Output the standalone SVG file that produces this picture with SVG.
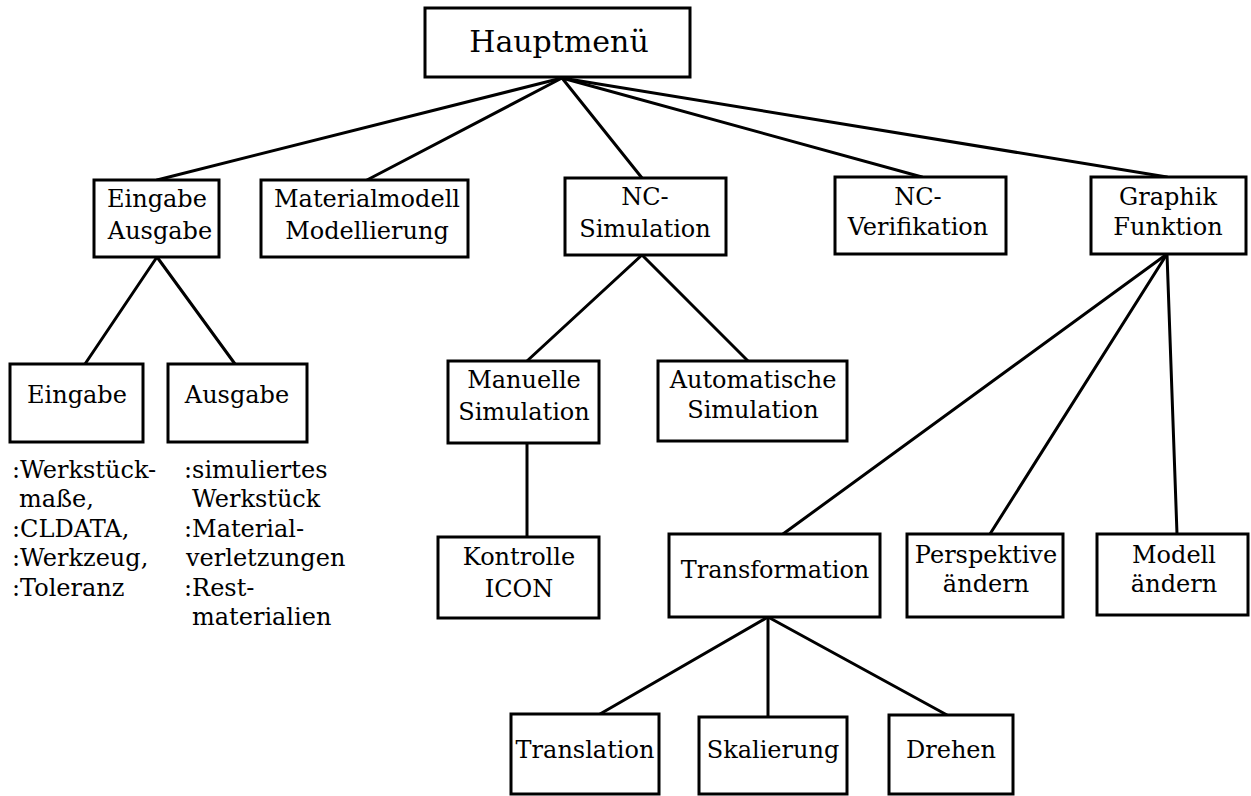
<svg xmlns="http://www.w3.org/2000/svg" width="1251" height="796" viewBox="0 0 1251 796">
<style>
rect.n{fill:#fff;stroke:#000;stroke-width:3}
.c line{stroke:#000;stroke-width:3;stroke-linecap:round}
text{font-family:"DejaVu Serif","Liberation Serif",serif;font-size:24px;fill:#000}
.m{text-anchor:middle}
</style>
<rect width="1251" height="796" fill="#fff"/>
<g class="c" id="connectors">
<line x1="562" y1="78" x2="157" y2="180"/>
<line x1="562" y1="78" x2="367" y2="180"/>
<line x1="562" y1="78" x2="642" y2="178"/>
<line x1="562" y1="78" x2="922" y2="177"/>
<line x1="562" y1="78" x2="1167" y2="177"/>
<line x1="157" y1="257" x2="85" y2="364"/>
<line x1="157" y1="257" x2="235" y2="364"/>
<line x1="642" y1="255" x2="527" y2="361"/>
<line x1="642" y1="255" x2="748" y2="361"/>
<line x1="527" y1="443" x2="527" y2="537"/>
<line x1="1167" y1="254" x2="783" y2="534"/>
<line x1="1167" y1="254" x2="990" y2="534"/>
<line x1="1167" y1="254" x2="1177" y2="534"/>
<line x1="768" y1="617" x2="600" y2="714"/>
<line x1="768" y1="617" x2="768" y2="717"/>
<line x1="768" y1="617" x2="947" y2="715"/>
</g>
<g id="hauptmenue"><rect class="n" x="425" y="8" width="265" height="69"/><text class="m" x="559" y="52" style="font-size:30px">Hauptmenü</text></g>
<g id="eingabe-ausgabe"><rect class="n" x="94" y="180" width="125" height="77"/><text class="m" x="157" y="207">Eingabe</text><text class="m" x="160" y="239">Ausgabe</text></g>
<g id="materialmodell"><rect class="n" x="261" y="180" width="207" height="77"/><text class="m" x="367" y="207">Materialmodell</text><text class="m" x="367" y="239">Modellierung</text></g>
<g id="nc-simulation"><rect class="n" x="565" y="178" width="161" height="77"/><text class="m" x="645" y="205">NC-</text><text class="m" x="645" y="237">Simulation</text></g>
<g id="nc-verifikation"><rect class="n" x="835" y="177" width="171" height="77"/><text class="m" x="918" y="205">NC-</text><text class="m" x="918" y="235">Verifikation</text></g>
<g id="graphik-funktion"><rect class="n" x="1091" y="177" width="155" height="77"/><text class="m" x="1168" y="205">Graphik</text><text class="m" x="1168" y="235">Funktion</text></g>
<g id="eingabe"><rect class="n" x="10" y="364" width="133" height="78"/><text class="m" x="77" y="403">Eingabe</text>
<text x="12" y="478">:Werkstück-</text><text x="19" y="507">maße,</text><text x="12" y="537">:CLDATA,</text><text x="12" y="566">:Werkzeug,</text><text x="12" y="596">:Toleranz</text></g>
<g id="ausgabe"><rect class="n" x="168" y="364" width="139" height="78"/><text class="m" x="237" y="403">Ausgabe</text>
<text x="184" y="478">:simuliertes</text><text x="192" y="507">Werkstück</text><text x="184" y="537">:Material-</text><text x="186" y="566">verletzungen</text><text x="184" y="596">:Rest-</text><text x="192" y="625">materialien</text></g>
<g id="manuelle-simulation"><rect class="n" x="448" y="361" width="151" height="82"/><text class="m" x="524" y="388">Manuelle</text><text class="m" x="524" y="420">Simulation</text></g>
<g id="automatische-simulation"><rect class="n" x="658" y="361" width="189" height="80"/><text class="m" x="753" y="388">Automatische</text><text class="m" x="753" y="418">Simulation</text></g>
<g id="kontrolle-icon"><rect class="n" x="438" y="537" width="161" height="81"/><text class="m" x="519" y="565">Kontrolle</text><text class="m" x="519" y="597">ICON</text></g>
<g id="transformation"><rect class="n" x="669" y="534" width="211" height="83"/><text class="m" x="775" y="578">Transformation</text></g>
<g id="perspektive"><rect class="n" x="907" y="534" width="156" height="83"/><text class="m" x="986" y="563">Perspektive</text><text class="m" x="986" y="592">ändern</text></g>
<g id="modell"><rect class="n" x="1097" y="534" width="151" height="81"/><text class="m" x="1174" y="563">Modell</text><text class="m" x="1174" y="592">ändern</text></g>
<g id="translation"><rect class="n" x="511" y="714" width="148" height="80"/><text class="m" x="585" y="758">Translation</text></g>
<g id="skalierung"><rect class="n" x="699" y="717" width="148" height="77"/><text class="m" x="773" y="758">Skalierung</text></g>
<g id="drehen"><rect class="n" x="889" y="715" width="124" height="79"/><text class="m" x="951" y="758">Drehen</text></g>
</svg>
